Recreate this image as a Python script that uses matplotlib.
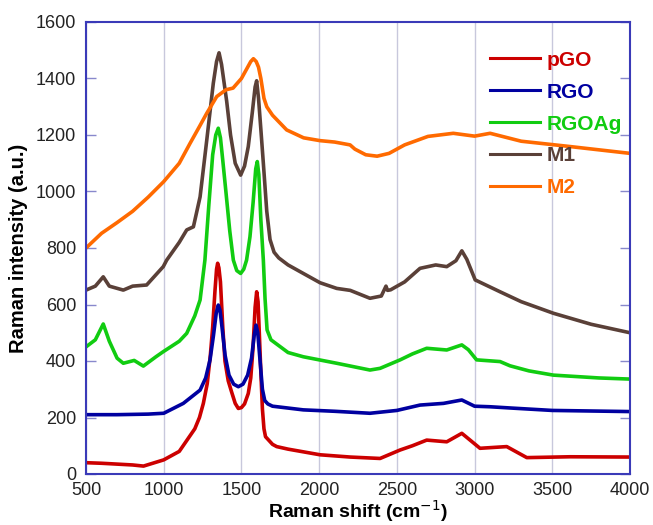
import matplotlib
matplotlib.use("Agg")
import matplotlib.pyplot as plt

plt.rcParams['font.family'] = ['Liberation Sans', 'DejaVu Sans']

# ---- data ----
pgo_x = [500, 600, 700, 800, 870, 1000, 1100, 1150, 1200, 1230, 1255, 1280, 1300, 1315, 1330, 1340,
         1347, 1355, 1365, 1380, 1394, 1415, 1437, 1460, 1480, 1500, 1520, 1544, 1560, 1575, 1588,
         1598, 1607, 1615, 1625, 1635, 1645, 1655, 1700, 1727, 1800, 2006, 2200, 2392, 2521,
         2600, 2692, 2821, 2918, 2960, 3035, 3207, 3336, 3615, 4000]
pgo_y = [40, 38, 35, 32, 28, 50, 80, 120, 160, 200, 250, 320, 420, 520, 650, 725,
         746, 730, 680, 520, 400, 330, 290, 250, 232, 235, 248, 285, 340, 450, 590,
         645, 610, 500, 360, 230, 160, 132, 105, 97, 88, 68, 60, 55, 85,
         100, 120, 114, 144, 125, 91, 97, 58, 61, 60]

rgo_x = [500, 700, 900, 1000, 1126, 1234, 1270, 1298, 1320, 1338, 1351, 1362, 1375, 1395, 1420,
         1450, 1480, 1510, 1540, 1565, 1582, 1594, 1605, 1620, 1635, 1650, 1670, 1700, 1898, 2100,
         2327, 2500, 2649, 2800, 2918, 3000, 3100, 3250, 3500, 4000]
rgo_y = [210, 210, 212, 215, 250, 297, 340, 404, 490, 570, 598, 580, 520, 420, 350,
         318, 309, 318, 350, 410, 490, 527, 500, 400, 300, 260, 248, 240, 227, 222,
         215, 225, 244, 250, 262, 240, 238, 233, 225, 221]

rgoag_x = [500, 560, 611, 650, 700, 740, 810, 869, 950, 997, 1100, 1148, 1200, 1234, 1265, 1290,
           1315, 1335, 1351, 1365, 1380, 1400, 1425, 1448, 1470, 1495, 1515, 1533, 1555, 1575,
           1592, 1602, 1612, 1625, 1641, 1652, 1665, 1690, 1800, 1898, 2113, 2327, 2392, 2521,
           2600, 2692, 2821, 2918, 2960, 3013, 3164, 3228, 3350, 3507, 3800, 4000]
rgoag_y = [450, 475, 531, 470, 410, 392, 402, 382, 415, 433, 470, 498, 560, 616, 757, 950,
           1130, 1200, 1224, 1190, 1110, 1000, 860, 757, 720, 710, 725, 757, 840, 960,
           1080, 1106, 1060, 900, 757, 620, 510, 475, 430, 415, 392, 368, 374, 404,
           425, 445, 439, 457, 440, 404, 398, 383, 365, 350, 340, 336]

m1_x = [500, 560, 611, 650, 740, 800, 890, 997, 1019, 1100, 1148, 1191, 1234, 1277, 1319, 1340,
        1356, 1372, 1405, 1430, 1460, 1495, 1520, 1544, 1570, 1588, 1598, 1610, 1625, 1641, 1663,
        1684, 1710, 1740, 1800, 1898, 2006, 2113, 2200, 2327, 2400, 2430, 2440, 2460, 2550, 2649,
        2750, 2821, 2880, 2918, 2950, 3004, 3164, 3300, 3507, 3750, 4000]
m1_y = [651, 665, 698, 665, 651, 665, 669, 734, 757, 820, 864, 875, 981, 1182, 1383, 1460,
        1491, 1450, 1320, 1200, 1100, 1058, 1090, 1159, 1280, 1370, 1392, 1330, 1220, 1100, 930,
        830, 785, 765, 740, 710, 677, 657, 650, 622, 630, 665, 650, 652, 680, 728,
        740, 734, 755, 790, 760, 687, 645, 610, 569, 530, 500]

m2_x = [500, 600, 700, 800, 900, 1000, 1100, 1169, 1230, 1277, 1341, 1400, 1446, 1500, 1540, 1560,
        1577, 1595, 1610, 1625, 1645, 1663, 1700, 1791, 1900, 2006, 2100, 2199, 2230, 2300, 2373,
        2450, 2550, 2700, 2863, 3000, 3100, 3300, 3600, 4000]
m2_y = [800, 852, 890, 930, 980, 1035, 1100, 1170, 1230, 1277, 1336, 1360, 1366, 1400, 1440, 1460,
        1470, 1460, 1440, 1400, 1330, 1300, 1270, 1218, 1190, 1180, 1175, 1165, 1150, 1130, 1125,
        1135, 1165, 1195, 1206, 1196, 1206, 1178, 1160, 1135]

labels = ["pGO", "RGO", "RGOAg", "M1", "M2"]
colors = ["#cc0000", "#0000a0", "#11cc11", "#5a4038", "#ff6a00"]
xticks = [500, 1000, 1500, 2000, 2500, 3000, 3500, 4000]
yticks = [0, 200, 400, 600, 800, 1000, 1200, 1400, 1600]

series = [(pgo_x, pgo_y), (rgo_x, rgo_y), (rgoag_x, rgoag_y), (m1_x, m1_y), (m2_x, m2_y)]

fig = plt.figure(figsize=(6.53, 5.25), dpi=100)
ax = fig.add_axes([86/653, 1 - 474/525, 544/653, 452/525])

for (x, y), lab, c in zip(series, labels, colors):
    ax.plot(x, y, color=c, lw=2.6, label=lab, solid_joinstyle='round')

ax.set_xlim(500, 4000)
ax.set_ylim(0, 1600)
ax.set_xticks(xticks)
ax.set_yticks(yticks)
ax.grid(axis='x', color='#c8c8dc', lw=1.0)
ax.set_axisbelow(True)
spine_c = '#3a3ab8'
for s in ax.spines.values():
    s.set_color(spine_c)
    s.set_linewidth(1.5)
ax.tick_params(axis='x', length=0, labelsize=13, pad=6, colors='#222222')
ax.tick_params(axis='y', direction='in', length=7, width=1.0, color='#8888cc',
               labelsize=13, pad=7, right=True, labelcolor='#222222')

ax.set_xlabel("Raman shift (cm$^{-1}$)", fontsize=14, fontweight='bold', labelpad=-1)
ax.set_ylabel("Raman intensity (a.u.)", fontsize=14.5, fontweight='bold', labelpad=6)

leg = ax.legend(loc='upper left', bbox_to_anchor=(0.728, 0.955), frameon=False,
                fontsize=15, handlelength=2.4, handletextpad=0.3, labelspacing=0.62,
                borderaxespad=0)
for t, c in zip(leg.get_texts(), colors):
    t.set_color(c)
    t.set_fontweight('bold')
for h in leg.get_lines():
    h.set_linewidth(2.2)

fig.savefig("out.png", dpi=100)
